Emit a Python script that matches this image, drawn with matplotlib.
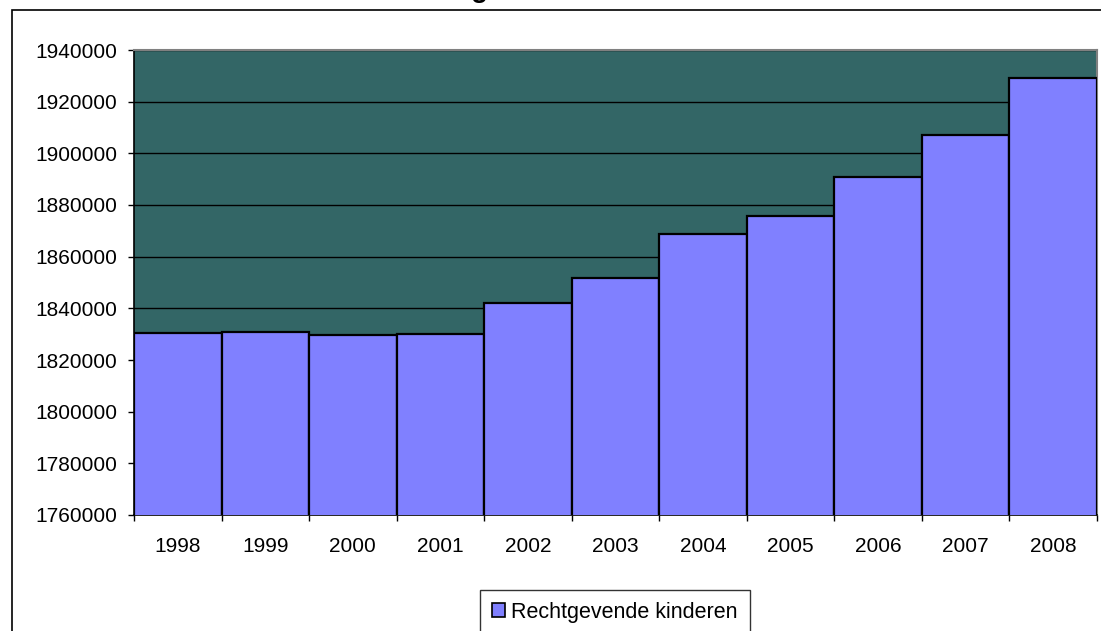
import matplotlib
matplotlib.use("Agg")
from matplotlib import pyplot as plt
from matplotlib.patches import Rectangle, Patch
import numpy as np

plt.rcParams['font.family'] = ['Liberation Sans', 'DejaVu Sans']

years = ["1998", "1999", "2000", "2001", "2002", "2003",
         "2004", "2005", "2006", "2007", "2008"]
kinderen = [1830400, 1830800, 1829800, 1829900, 1842200, 1851600,
            1868800, 1875700, 1890700, 1907000, 1929100]
series_name = "Rechtgevende kinderen"
title_text = "Rechtgevende kinderen"

W, H = 1101, 631
fig = plt.figure(figsize=(W / 100, H / 100), dpi=100)
fig.patch.set_facecolor("white")

# outer chart frame (runs off the right and bottom edges)
fig.patches.append(Rectangle((12 / W, -0.1), 1.2, (H - 10) / H + 0.1,
                             transform=fig.transFigure, fill=False,
                             edgecolor="black", lw=1.2))

# title, cut off at the top of the image like in the source
fig.text(0.5, 1 + 3 / H, title_text, ha="center", va="baseline",
         fontsize=20, fontweight="bold")

ax = fig.add_axes([134 / W, (H - 515) / H, (1097 - 134) / W, (515 - 50) / H])
ax.set_facecolor("#336666")

x = np.arange(len(years))
ax.bar(x, kinderen, width=1.0, color="#8080FF", edgecolor="black",
       linewidth=1.6, zorder=3)

ax.set_ylim(1760000, 1940000)
ax.set_yticks(np.arange(1760000, 1940001, 20000))
ax.yaxis.grid(True, color="black", linewidth=1.0, zorder=1)
ax.set_axisbelow(True)
ax.tick_params(axis="y", direction="out", length=4.5, width=1, labelsize=15,
               pad=7.5)
ax.yaxis.set_major_formatter(matplotlib.ticker.FuncFormatter(lambda v, p: "%d" % v))

ax.set_xlim(-0.5, len(years) - 0.5)
ax.set_xticks(np.arange(-0.5, len(years), 1.0))
ax.set_xticklabels([])
ax.tick_params(axis="x", which="major", direction="out", length=4.5, width=1)
ax.set_xticks(x, minor=True)
ax.set_xticklabels(years, minor=True)
ax.tick_params(axis="x", which="minor", length=0, labelsize=15, pad=16)

for side in ("top", "right"):
    ax.spines[side].set_color("#808080")
    ax.spines[side].set_linewidth(1.5)
for side in ("left", "bottom"):
    ax.spines[side].set_color("black")
    ax.spines[side].set_linewidth(1.2)

handle = Patch(facecolor="#8080FF", edgecolor="black", linewidth=1.2)
leg = fig.legend([handle], [series_name], loc="upper left",
                 bbox_to_anchor=(480 / W, (H - 590) / H), fontsize=15.5,
                 frameon=True, fancybox=False, handlelength=0.6,
                 handleheight=0.6, handletextpad=0.3, borderpad=0.55,
                 borderaxespad=0)
leg.get_frame().set_edgecolor("black")
leg.get_frame().set_linewidth(1.0)

fig.savefig("out.png", dpi=100)
